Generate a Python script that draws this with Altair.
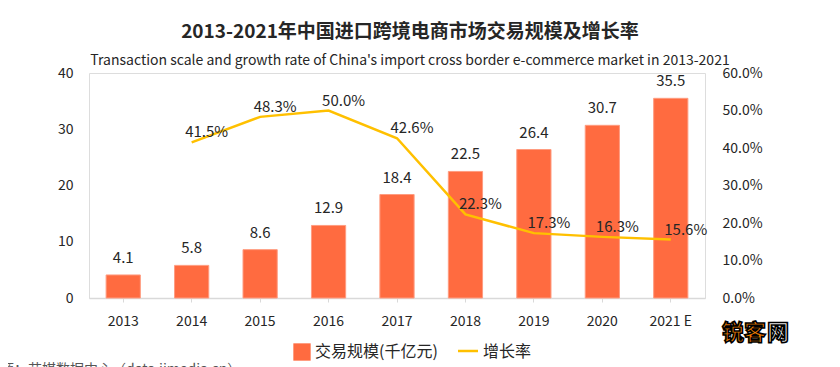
import altair as alt
import pandas as pd

years = ["2013", "2014", "2015", "2016", "2017", "2018", "2019", "2020", "2021 E"]
scale_values = [4.1, 5.8, 8.6, 12.9, 18.4, 22.5, 26.4, 30.7, 35.5]
growth_pct = [None, 41.5, 48.3, 50.0, 42.6, 22.3, 17.3, 16.3, 15.6]

title_cn = "2013-2021年中国进口跨境电商市场交易规模及增长率"
title_en = "Transaction scale and growth rate of China's import cross border e-commerce market in 2013-2021"
legend_bar = "交易规模(千亿元)"
legend_line = "增长率"
source_text = "来源：艾媒数据中心（data.iimedia.cn）"

FONT = "Noto Sans CJK SC"
BAR_C = "#FF6B40"
LINE_C = "#FFC000"
TXT = "#262626"

df = pd.DataFrame({"year": years, "scale": scale_values,
                   "growth": [None if g is None else g / 100 for g in growth_pct]})
df_line = df.dropna(subset=["growth"])

xenc = alt.X("year:N", sort=years, title=None,
             scale=alt.Scale(paddingInner=0.5, paddingOuter=0.25),
             axis=alt.Axis(labelAngle=0, labelFont=FONT, labelFontSize=14, labelColor=TXT,
                           labelPadding=12, domainColor="#d9d9d9", domainWidth=1.5,
                           tickColor="#d9d9d9", tickSize=4, grid=False))

yl = alt.Y("scale:Q", title=None, scale=alt.Scale(domain=[0, 40]),
           axis=alt.Axis(values=[0, 10, 20, 30, 40], labelFont=FONT, labelFontSize=14,
                         labelColor=TXT, labelPadding=16, labelOverlap=False,
                         domain=False, ticks=False, grid=False))

yr = alt.Y("growth:Q", title=None, scale=alt.Scale(domain=[0, 0.6]),
           axis=alt.Axis(orient="right", values=[0, 0.1, 0.2, 0.3, 0.4, 0.5, 0.6], format=".1%",
                         labelFont=FONT, labelFontSize=14, labelColor=TXT, labelPadding=17,
                         labelOverlap=False, domain=False, ticks=False, grid=False))

bars = alt.Chart(df).mark_bar(color=BAR_C, stroke="#FF9C80", strokeWidth=1).encode(x=xenc, y=yl)
bar_labels = alt.Chart(df).mark_text(font=FONT, fontSize=15, color=TXT, baseline="bottom", dy=-9).encode(
    x=xenc, y=yl, text=alt.Text("scale:Q", format=".1f"))
left = alt.layer(bars, bar_labels)

line = alt.Chart(df_line).mark_line(color=LINE_C, strokeWidth=2.5).encode(x=xenc, y=yr)
line_labels = alt.Chart(df_line).mark_text(font=FONT, fontSize=15, color=TXT, baseline="middle",
                                           dx=15, dy=-10).encode(
    x=xenc, y=yr, text=alt.Text("growth:Q", format=".1%"))
right = alt.layer(line, line_labels)

one = alt.Data(values=[{"a": 1}])
OX, OY = 89, 73  # page position of plot origin (annotation placement helper)

leg_sq = alt.Chart(one).mark_square(size=300, color=BAR_C, opacity=1).encode(
    x=alt.value(302 - OX), y=alt.value(352 - OY))
leg_t1 = alt.Chart(one).mark_text(text=legend_bar, font=FONT, fontSize=16, color=TXT, align="left",
                                  baseline="middle").encode(x=alt.value(315 - OX), y=alt.value(352 - OY))
leg_ln = alt.Chart(one).mark_rule(color=LINE_C, strokeWidth=2.5).encode(
    x=alt.value(458 - OX), x2=alt.value(478 - OX), y=alt.value(351 - OY))
leg_t2 = alt.Chart(one).mark_text(text=legend_line, font=FONT, fontSize=16, color=TXT, align="left",
                                  baseline="middle").encode(x=alt.value(483 - OX), y=alt.value(352 - OY))
src = alt.Chart(one).mark_text(text=source_text, font=FONT, fontSize=14, color="#555", align="left",
                               baseline="top").encode(x=alt.value(-14 - OX), y=alt.value(363 - OY))
wm_a = alt.Chart(one).mark_text(text="锐客", font=FONT, fontSize=22, fontWeight="bold", align="left",
                                baseline="middle", color="#F07A00", stroke="black", strokeWidth=1.6).encode(
    x=alt.value(722 - OX), y=alt.value(333 - OY))
wm_b = alt.Chart(one).mark_text(text="网", font=FONT, fontSize=22, fontWeight="bold", align="left",
                                baseline="middle", color="white", stroke="black", strokeWidth=1.6).encode(
    x=alt.value(767 - OX), y=alt.value(333 - OY))

chart = alt.layer(left, right, leg_sq, leg_t1, leg_ln, leg_t2, src, wm_a, wm_b).resolve_scale(
    y="independent"
).properties(
    width=616, height=225,
    autosize=alt.AutoSizeParams(type="none"),
    padding={"left": 81, "top": 65, "right": 127, "bottom": 70},
    title=alt.Title(title_cn, subtitle=title_en, font=FONT, fontSize=19, fontWeight="bold", color=TXT,
                    subtitleFont=FONT, subtitleFontSize=14, subtitleColor=TXT, anchor="middle",
                    dx=13, offset=-2, subtitlePadding=12),
).configure_view(stroke=None).configure(background="white")

chart.save("out.html", embed_options={"renderer": "svg", "actions": False})
